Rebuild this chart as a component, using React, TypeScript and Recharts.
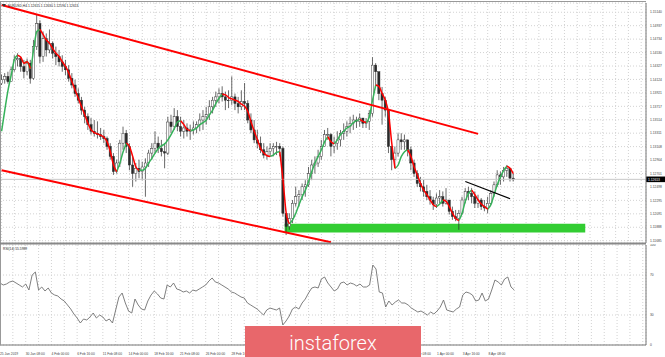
import React from 'react';
import { ComposedChart, Bar, Line, XAxis, YAxis, CartesianGrid, ReferenceLine, ReferenceArea } from 'recharts';

// EURUSD H4, one entry per two H4 bars
const highs = [
  1.1420, 1.1422, 1.1424, 1.1432, 1.1449, 1.1452, 1.1447, 1.1442, 1.1444, 1.1442,
  1.1472, 1.1510, 1.1502, 1.1485, 1.1482, 1.1488, 1.1470, 1.1462, 1.1457, 1.1449,
  1.1442, 1.1434, 1.1422, 1.1412, 1.1399, 1.1386, 1.1371, 1.1361, 1.1354, 1.1351,
  1.1349, 1.1339, 1.1336, 1.1326, 1.1316, 1.1301, 1.1291, 1.1321, 1.1341, 1.1336,
  1.1316, 1.1296, 1.1286, 1.1291, 1.1288, 1.1293, 1.1306, 1.1316, 1.1334, 1.1326,
  1.1321, 1.1316, 1.1356, 1.1359, 1.1369, 1.1366, 1.1356, 1.1351, 1.1346, 1.1344,
  1.1349, 1.1349, 1.1361, 1.1366, 1.1371, 1.1381, 1.1386, 1.1394, 1.1399, 1.1402,
  1.1394, 1.1396, 1.1417, 1.1391, 1.1386, 1.1396, 1.1407, 1.1381, 1.1361, 1.1351,
  1.1336, 1.1326, 1.1316, 1.1311, 1.1316, 1.1316, 1.1318, 1.1316, 1.1311, 1.1210,
  1.1210, 1.1230, 1.1250, 1.1245, 1.1255, 1.1260, 1.1280, 1.1291, 1.1296, 1.1306,
  1.1321, 1.1336, 1.1339, 1.1331, 1.1326, 1.1334, 1.1336, 1.1346, 1.1349, 1.1356,
  1.1359, 1.1356, 1.1361, 1.1354, 1.1354, 1.1366, 1.1446, 1.1437, 1.1422, 1.1401,
  1.1386, 1.1366, 1.1311, 1.1311, 1.1331, 1.1331, 1.1329, 1.1321, 1.1311, 1.1291,
  1.1275, 1.1265, 1.1260, 1.1253, 1.1245, 1.1235, 1.1240, 1.1245, 1.1243, 1.1248,
  1.1230, 1.1220, 1.1215, 1.1215, 1.1235, 1.1248, 1.1250, 1.1248, 1.1243, 1.1238,
  1.1233, 1.1230, 1.1235, 1.1245, 1.1258, 1.1275, 1.1273, 1.1280, 1.1283, 1.1278,
  1.1270,
];

const lows = [
  1.1404, 1.1406, 1.1406, 1.1409, 1.1424, 1.1432, 1.1424, 1.1414, 1.1419, 1.1406,
  1.1412, 1.1457, 1.1437, 1.1439, 1.1447, 1.1452, 1.1444, 1.1434, 1.1432, 1.1424,
  1.1419, 1.1409, 1.1399, 1.1386, 1.1376, 1.1359, 1.1346, 1.1336, 1.1329, 1.1326,
  1.1323, 1.1321, 1.1316, 1.1306, 1.1291, 1.1268, 1.1270, 1.1280, 1.1306, 1.1301,
  1.1275, 1.1250, 1.1258, 1.1263, 1.1260, 1.1235, 1.1280, 1.1291, 1.1301, 1.1301,
  1.1296, 1.1278, 1.1298, 1.1331, 1.1336, 1.1334, 1.1326, 1.1323, 1.1326, 1.1321,
  1.1329, 1.1331, 1.1334, 1.1336, 1.1344, 1.1351, 1.1361, 1.1371, 1.1376, 1.1379,
  1.1366, 1.1369, 1.1374, 1.1366, 1.1361, 1.1366, 1.1366, 1.1346, 1.1331, 1.1316,
  1.1308, 1.1301, 1.1293, 1.1291, 1.1296, 1.1296, 1.1298, 1.1296, 1.1205, 1.1177,
  1.1185, 1.1195, 1.1220, 1.1220, 1.1230, 1.1235, 1.1250, 1.1260, 1.1270, 1.1280,
  1.1291, 1.1311, 1.1321, 1.1296, 1.1301, 1.1306, 1.1311, 1.1321, 1.1326, 1.1331,
  1.1336, 1.1339, 1.1341, 1.1339, 1.1339, 1.1336, 1.1356, 1.1401, 1.1381, 1.1344,
  1.1356, 1.1301, 1.1275, 1.1280, 1.1296, 1.1306, 1.1306, 1.1296, 1.1275, 1.1265,
  1.1250, 1.1243, 1.1235, 1.1230, 1.1223, 1.1215, 1.1218, 1.1225, 1.1220, 1.1223,
  1.1208, 1.1200, 1.1198, 1.1185, 1.1208, 1.1225, 1.1230, 1.1225, 1.1218, 1.1218,
  1.1215, 1.1213, 1.1210, 1.1223, 1.1235, 1.1250, 1.1253, 1.1258, 1.1265, 1.1258,
  1.1258,
];

const closes = [
  1.1412, 1.1417, 1.1409, 1.1427, 1.1442, 1.1444, 1.1432, 1.1424, 1.1437, 1.1414,
  1.1462, 1.1497, 1.1447, 1.1474, 1.1457, 1.1467, 1.1452, 1.1447, 1.1439, 1.1432,
  1.1427, 1.1414, 1.1404, 1.1391, 1.1381, 1.1366, 1.1356, 1.1344, 1.1334, 1.1331,
  1.1329, 1.1326, 1.1323, 1.1311, 1.1296, 1.1273, 1.1286, 1.1316, 1.1331, 1.1311,
  1.1283, 1.1270, 1.1278, 1.1273, 1.1280, 1.1286, 1.1301, 1.1308, 1.1316, 1.1308,
  1.1303, 1.1301, 1.1348, 1.1341, 1.1356, 1.1341, 1.1334, 1.1339, 1.1334, 1.1336,
  1.1339, 1.1344, 1.1351, 1.1356, 1.1359, 1.1371, 1.1381, 1.1386, 1.1391, 1.1386,
  1.1381, 1.1381, 1.1386, 1.1376, 1.1371, 1.1379, 1.1376, 1.1351, 1.1336, 1.1321,
  1.1316, 1.1306, 1.1298, 1.1303, 1.1308, 1.1311, 1.1311, 1.1308, 1.1210, 1.1190,
  1.1202, 1.1225, 1.1235, 1.1238, 1.1250, 1.1253, 1.1270, 1.1283, 1.1286, 1.1296,
  1.1311, 1.1329, 1.1329, 1.1311, 1.1316, 1.1321, 1.1331, 1.1334, 1.1341, 1.1346,
  1.1351, 1.1349, 1.1354, 1.1346, 1.1349, 1.1361, 1.1434, 1.1424, 1.1391, 1.1381,
  1.1366, 1.1311, 1.1291, 1.1301, 1.1321, 1.1318, 1.1321, 1.1306, 1.1286, 1.1270,
  1.1255, 1.1250, 1.1243, 1.1235, 1.1230, 1.1223, 1.1233, 1.1235, 1.1225, 1.1230,
  1.1213, 1.1205, 1.1202, 1.1210, 1.1230, 1.1243, 1.1240, 1.1235, 1.1225, 1.1230,
  1.1220, 1.1218, 1.1225, 1.1240, 1.1253, 1.1268, 1.1265, 1.1275, 1.1278, 1.1263,
  1.12613,
];

const maValues = [
  1.1334, 1.1366, 1.1396, 1.1419, 1.1442, 1.1449, 1.1446, 1.1437, 1.1439, 1.1429,
  1.1457, 1.1485, 1.1488, 1.1480, 1.1472, 1.1467, 1.1459, 1.1452, 1.1447, 1.1439,
  1.1432, 1.1422, 1.1409, 1.1396, 1.1384, 1.1371, 1.1359, 1.1346, 1.1336, 1.1332,
  1.1330, 1.1328, 1.1325, 1.1318, 1.1303, 1.1283, 1.1273, 1.1286, 1.1303, 1.1316,
  1.1311, 1.1296, 1.1280, 1.1275, 1.1275, 1.1278, 1.1286, 1.1293, 1.1301, 1.1308,
  1.1312, 1.1315, 1.1321, 1.1329, 1.1338, 1.1348, 1.1350, 1.1344, 1.1337, 1.1335,
  1.1336, 1.1339, 1.1344, 1.1347, 1.1351, 1.1359, 1.1366, 1.1376, 1.1384, 1.1390,
  1.1389, 1.1385, 1.1383, 1.1381, 1.1379, 1.1375, 1.1372, 1.1364, 1.1348, 1.1334,
  1.1321, 1.1308, 1.1301, 1.1297, 1.1296, 1.1298, 1.1302, 1.1303, 1.1260, 1.1210,
  1.1194, 1.1200, 1.1210, 1.1223, 1.1235, 1.1245, 1.1258, 1.1273, 1.1286, 1.1296,
  1.1306, 1.1318, 1.1326, 1.1318, 1.1315, 1.1321, 1.1329, 1.1334, 1.1339, 1.1342,
  1.1347, 1.1350, 1.1352, 1.1349, 1.1347, 1.1356, 1.1381, 1.1404, 1.1402, 1.1391,
  1.1381, 1.1361, 1.1316, 1.1278, 1.1283, 1.1296, 1.1303, 1.1306, 1.1296, 1.1280,
  1.1268, 1.1255, 1.1245, 1.1238, 1.1230, 1.1223, 1.1220, 1.1224, 1.1230, 1.1228,
  1.1220, 1.1210, 1.1202, 1.1199, 1.1210, 1.1228, 1.1240, 1.1245, 1.1238, 1.1230,
  1.1224, 1.1220, 1.1216, 1.1223, 1.1238, 1.1253, 1.1265, 1.1275, 1.1281, 1.1278,
  1.1270,
];

const rsiValues = [
  62, 60, 61, 63, 64, 62, 60, 58, 61, 55,
  70, 73, 55, 58, 54, 57, 52, 50, 49, 46,
  44, 40, 36, 31, 27, 22, 26, 25, 28, 32,
  27, 30, 28, 24, 26, 22, 35, 48, 52, 42,
  34, 32, 46, 40, 36, 35, 44, 50, 54, 51,
  47, 46, 60, 58, 62, 56, 55, 53, 54, 52,
  55, 54, 56, 58, 60, 64, 67, 63, 62, 60,
  58, 56, 53, 52, 50, 48, 47, 42, 40, 38,
  36, 33, 30, 35, 37, 36, 35, 37, 20, 24,
  29, 36, 38, 36, 42, 46, 52, 57, 58, 57,
  66, 68, 62, 58, 54, 56, 62, 63, 60, 62,
  61, 59, 61, 58, 58, 60, 80, 76, 53, 52,
  38, 44, 40, 43, 45, 42, 42, 40, 37, 35,
  33, 34, 32, 30, 33, 31, 34, 38, 45, 35,
  34, 33, 36, 38, 50, 53, 52, 50, 44, 45,
  52, 44, 46, 55, 65, 63, 60, 66, 68, 58,
  55,
];

// time labels every 16 H4 bars; the ones from 5 Mar to 22 Mar sit under the badge
const dateLabels = [
  '25 Jan 2019', '30 Jan 08:00', '4 Feb 00:00', '6 Feb 16:00', '11 Feb 08:00',
  '14 Feb 00:00', '18 Feb 16:00', '21 Feb 08:00', '26 Feb 00:00', '28 Feb 16:00',
  '', '', '', '', '', '',
  '27 Mar 08:00', '1 Apr 00:00', '3 Apr 16:00', '8 Apr 08:00',
];

const priceTicks = [
  1.11685, 1.11888, 1.12091, 1.12295, 1.12498, 1.12701, 1.12904, 1.13108, 1.13311,
  1.13514, 1.13717, 1.13921, 1.14124, 1.14327, 1.1453, 1.14734, 1.14937, 1.1514,
];
const rsiTicks = [0, 30, 70, 100];
const lastPrice = 1.12613;

const SLOTS = 202;
const FONT = '"Liberation Sans", Arial, sans-serif';
const SMALL = 3.3;

const rising = (k: number) => {
  if (k <= 0) return maValues[1] >= maValues[0];
  if (k >= maValues.length) return false;
  return maValues[k] >= maValues[k - 1];
};

const rows = Array.from({ length: SLOTS }, (_, i) => {
  if (i >= closes.length) return { i };
  const open = i === 0 ? 1.1406 : closes[i - 1];
  const close = closes[i];
  const hi = Math.max(highs[i], open, close);
  const lo = Math.min(lows[i], open, close);
  const up = rising(i);
  const upNext = i + 1 < maValues.length ? rising(i + 1) : up;
  return {
    i,
    open,
    close,
    hi,
    lo,
    range: [lo, hi],
    maGreen: up || upNext ? maValues[i] : null,
    maRed: !up || !upNext ? maValues[i] : null,
    rsi: rsiValues[i],
  };
});

const gridTicks = Array.from({ length: 51 }, (_, k) => k * 4);

const Candle = (props: any) => {
  const { x, y, width, height, payload } = props;
  if (!payload || payload.close == null) return null;
  const { hi, lo, open, close } = payload;
  const span = hi - lo || 1e-9;
  const py = (v: number) => y + ((hi - v) / span) * height;
  const cx = x + width / 2;
  const top = py(Math.max(open, close));
  const bot = py(Math.min(open, close));
  const bull = close >= open;
  return (
    <g>
      <line x1={cx} x2={cx} y1={y} y2={y + height} stroke="#2a2a2a" strokeWidth={0.7} />
      <rect
        x={cx - 1.1}
        y={top}
        width={2.2}
        height={Math.max(bot - top, 0.6)}
        fill={bull ? '#fff' : '#2a2a2a'}
        stroke="#2a2a2a"
        strokeWidth={0.45}
      />
    </g>
  );
};

const PriceTick = (props: any) => {
  const { x, y, payload } = props;
  return (
    <text x={x + 2} y={y + 1.2} fontSize={SMALL} fill="#444" fontFamily={FONT}>
      {Number(payload.value).toFixed(5)}
    </text>
  );
};

const RsiTick = (props: any) => {
  const { x, y, payload } = props;
  return (
    <text x={x + 2} y={y + 1.2} fontSize={SMALL} fill="#444" fontFamily={FONT}>
      {payload.value}
    </text>
  );
};

const DateTick = (props: any) => {
  const { x, y, payload } = props;
  if (payload.value % 8 !== 0) return null;
  const label = dateLabels[payload.value / 8];
  if (!label) return null;
  return (
    <text x={x} y={y + 8} fontSize={SMALL} fill="#444" fontFamily={FONT}>
      {label}
    </text>
  );
};

const PriceBox = (props: any) => {
  const vb = props.viewBox || {};
  const right = (vb.x || 0) + (vb.width || 0);
  const cy = vb.y || 0;
  return (
    <g>
      <rect x={right} y={cy - 2.8} width={19} height={5.6} fill="#000" />
      <text x={right + 2} y={cy + 1.2} fontSize={SMALL} fill="#fff" fontFamily={FONT}>
        {lastPrice.toFixed(5)}
      </text>
    </g>
  );
};

export default function App() {
  return (
    <div style={{ position: 'absolute', left: 0, top: 0, width: 665, height: 357, background: '#fff', overflow: 'hidden' }}>
      <div style={{ position: 'absolute', left: 0, top: 0 }}>
        <ComposedChart width={665} height={244} data={rows} margin={{ top: 3, right: 0, bottom: 1, left: 0 }} barCategoryGap={0}>
          <CartesianGrid stroke="#d2d2d2" strokeDasharray="1 2" />
          <XAxis dataKey="i" type="category" hide ticks={gridTicks} interval={0} />
          <YAxis
            orientation="right"
            width={19}
            domain={[1.1165, 1.1528]}
            allowDataOverflow
            ticks={priceTicks}
            interval={0}
            tick={<PriceTick />}
            tickLine={false}
            tickSize={0}
            axisLine={{ stroke: '#777' }}
          />
          <ReferenceLine y={lastPrice} stroke="#c8c8c8" strokeWidth={1} label={(p: any) => <PriceBox {...p} />} />
          <Bar dataKey="range" shape={<Candle />} isAnimationActive={false} />
          <Line dataKey="maGreen" stroke="#36b25a" strokeWidth={1.5} dot={false} type="monotone" connectNulls={false} isAnimationActive={false} />
          <Line dataKey="maRed" stroke="#ff0000" strokeWidth={1.5} dot={false} type="monotone" connectNulls={false} isAnimationActive={false} />
          <ReferenceArea x1={89} x2={182} y1={1.1181} y2={1.1194} fill="#32cd32" fillOpacity={1} stroke="none" />
          <ReferenceLine segment={[{ x: 0, y: 1.1525 }, { x: 149, y: 1.133 }]} stroke="#ff0000" strokeWidth={2} />
          <ReferenceLine segment={[{ x: 0, y: 1.1275 }, { x: 103, y: 1.1166 }]} stroke="#ff0000" strokeWidth={2} />
          <ReferenceLine segment={[{ x: 145, y: 1.1258 }, { x: 159, y: 1.1232 }]} stroke="#000" strokeWidth={1.2} />
        </ComposedChart>
      </div>
      <div style={{ position: 'absolute', left: 0, top: 244 }}>
        <ComposedChart width={665} height={113} data={rows} margin={{ top: 1, right: 0, bottom: 0, left: 0 }}>
          <CartesianGrid stroke="#d2d2d2" strokeDasharray="1 2" />
          <XAxis
            dataKey="i"
            type="category"
            ticks={gridTicks}
            interval={0}
            height={12}
            tick={<DateTick />}
            tickLine={false}
            tickSize={0}
            axisLine={{ stroke: '#777' }}
          />
          <YAxis
            orientation="right"
            width={19}
            domain={[0, 100]}
            ticks={rsiTicks}
            interval={0}
            tick={<RsiTick />}
            tickLine={false}
            tickSize={0}
            axisLine={{ stroke: '#777' }}
          />
          <Line dataKey="rsi" stroke="#707070" strokeWidth={0.9} dot={false} type="linear" isAnimationActive={false} />
        </ComposedChart>
      </div>
      <svg style={{ position: 'absolute', left: 0, top: 0 }} width={665} height={357}>
        <line x1={0} x2={646} y1={1.5} y2={1.5} stroke="#999" />
        <line x1={0.5} x2={0.5} y1={1.5} y2={345} stroke="#999" />
        <line x1={0} x2={646} y1={243.5} y2={243.5} stroke="#888" strokeWidth={2} />
        <polygon points="2,4 6,4 4,7" fill="#333" />
        <text x={8} y={6.8} fontSize={SMALL} fill="#222" fontFamily={FONT}>
          EURUSD,H4  1.12615 1.12630 1.12594 1.12613
        </text>
        <text x={3} y={250} fontSize={SMALL} fill="#222" fontFamily={FONT}>
          RSI(14) 55.5989
        </text>
        <rect x={245} y={326} width={176} height={31} fill="#e8676b" />
        <text x={333} y={350} textAnchor="middle" fontSize={20} fontWeight={300} fill="#fff" fontFamily="Roboto, 'Open Sans', sans-serif">
          instaforex
        </text>
      </svg>
    </div>
  );
}
